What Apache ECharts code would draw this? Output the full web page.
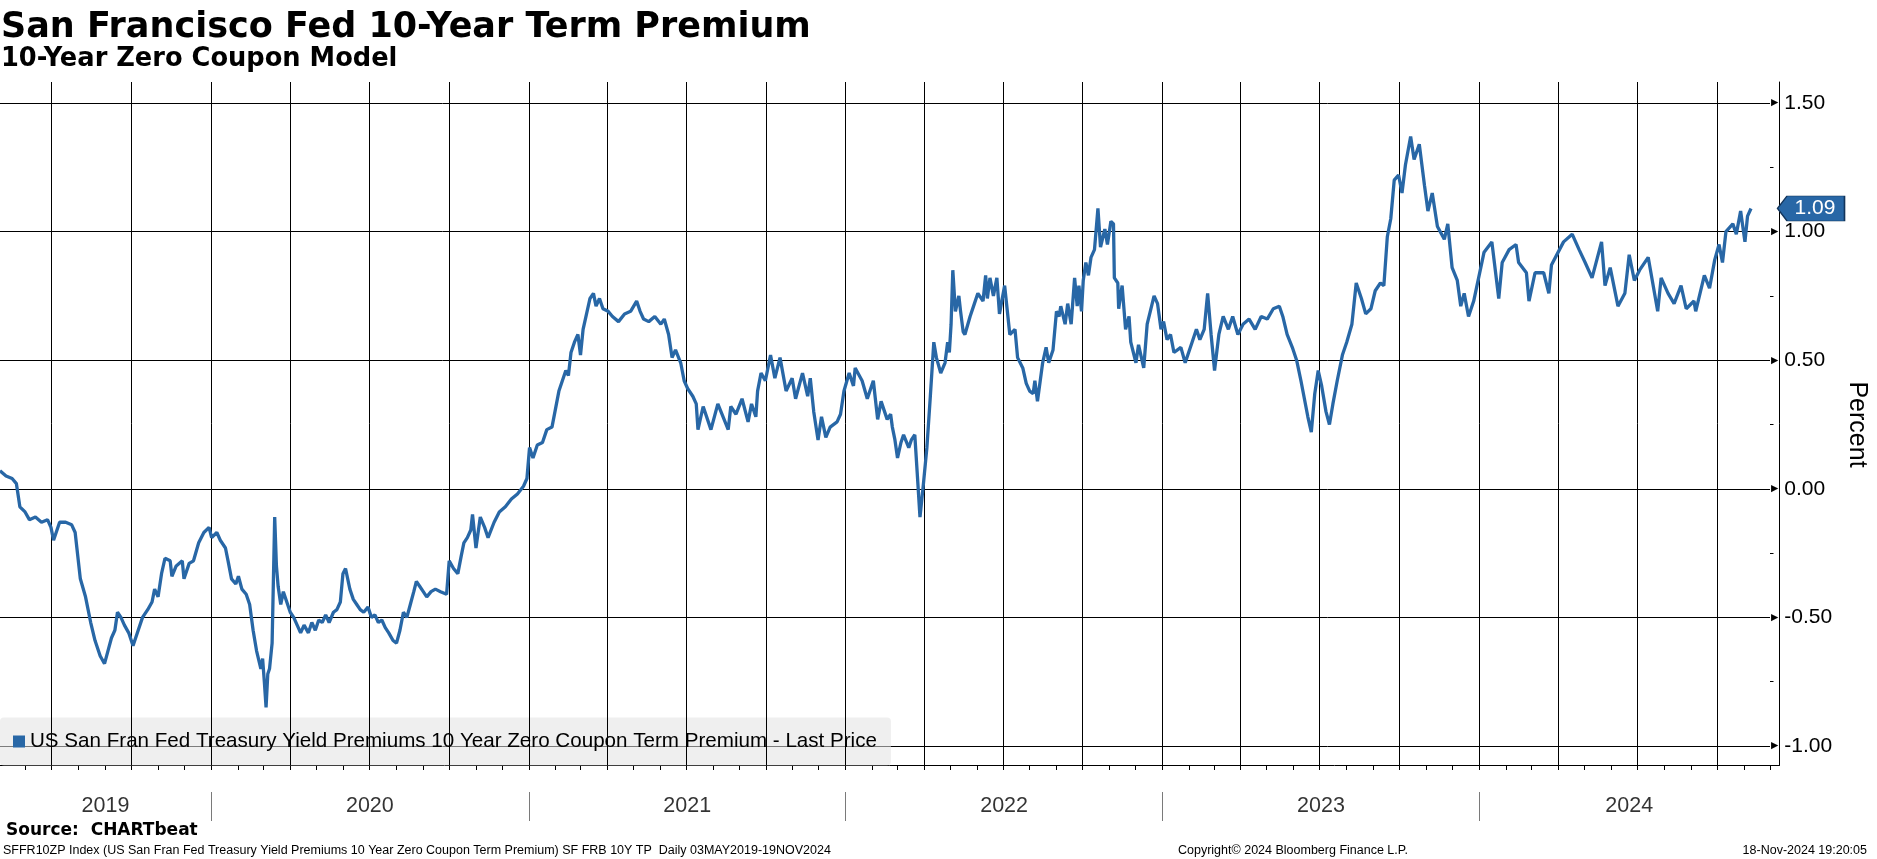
<!DOCTYPE html>
<html>
<head>
<meta charset="utf-8">
<script src="https://cdn.jsdelivr.net/npm/echarts@6/dist/echarts.min.js"></script>
<style>
html,body{margin:0;padding:0;background:#fff;}
#chart{width:1877px;height:859px;}
</style>
</head>
<body>
<div id="chart"></div>
<script>
// ---------- DATA ----------
const seriesName = 'US San Fran Fed Treasury Yield Premiums 10 Year Zero Coupon Term Premium - Last Price';
const yearLabels = ['2019','2020','2021','2022','2023','2024'];
const yTicks = [-1.0, -0.5, 0.0, 0.5, 1.0, 1.5];
const axisStart = '2019-05-03';
const axisEnd = '2024-12-11';

const data2019 = [
 ['2019-05-03',0.07],['2019-05-10',0.05],['2019-05-17',0.04],['2019-05-22',0.02],['2019-05-26',-0.07],
 ['2019-06-01',-0.09],['2019-06-06',-0.12],['2019-06-13',-0.11],['2019-06-20',-0.13],['2019-06-27',-0.12],
 ['2019-07-01',-0.15],['2019-07-04',-0.20],['2019-07-11',-0.13],['2019-07-18',-0.13],['2019-07-25',-0.14],
 ['2019-07-29',-0.17],['2019-08-04',-0.35],['2019-08-10',-0.42],['2019-08-16',-0.52],['2019-08-21',-0.59],
 ['2019-08-27',-0.65],['2019-09-01',-0.68],['2019-09-05',-0.63],['2019-09-09',-0.58],['2019-09-13',-0.55],
 ['2019-09-16',-0.48],['2019-09-20',-0.50],['2019-09-24',-0.53],['2019-09-29',-0.56],['2019-10-04',-0.61],
 ['2019-10-10',-0.55],['2019-10-15',-0.50],['2019-10-21',-0.47],['2019-10-26',-0.44],['2019-10-29',-0.39],
 ['2019-11-02',-0.42],['2019-11-06',-0.33],['2019-11-10',-0.27],['2019-11-16',-0.28],['2019-11-18',-0.34],
 ['2019-11-23',-0.30],['2019-11-30',-0.28],['2019-12-02',-0.35],['2019-12-08',-0.29],['2019-12-13',-0.28],
 ['2019-12-19',-0.21],['2019-12-25',-0.17],['2019-12-31',-0.15]
];
const data2020 = [
 ['2020-01-03',-0.19],['2020-01-09',-0.17],['2020-01-13',-0.20],['2020-01-19',-0.23],['2020-01-22',-0.28],
 ['2020-01-26',-0.35],['2020-01-31',-0.37],['2020-02-03',-0.34],['2020-02-07',-0.39],['2020-02-12',-0.41],
 ['2020-02-16',-0.45],['2020-02-20',-0.55],['2020-02-24',-0.63],['2020-02-29',-0.70],['2020-03-02',-0.66],
 ['2020-03-04',-0.75],['2020-03-06',-0.85],['2020-03-08',-0.72],['2020-03-10',-0.70],['2020-03-13',-0.60],
 ['2020-03-16',-0.11],['2020-03-18',-0.30],['2020-03-20',-0.38],['2020-03-23',-0.45],['2020-03-26',-0.40],
 ['2020-03-30',-0.44],['2020-04-03',-0.48],['2020-04-07',-0.50],['2020-04-11',-0.53],['2020-04-15',-0.56],
 ['2020-04-19',-0.53],['2020-04-24',-0.56],['2020-04-28',-0.52],['2020-05-02',-0.55],['2020-05-06',-0.51],
 ['2020-05-10',-0.52],['2020-05-14',-0.49],['2020-05-18',-0.52],['2020-05-23',-0.48],['2020-05-27',-0.47],
 ['2020-05-31',-0.44],['2020-06-03',-0.33],['2020-06-06',-0.31],['2020-06-11',-0.39],['2020-06-15',-0.43],
 ['2020-06-19',-0.45],['2020-06-23',-0.47],['2020-06-27',-0.48],['2020-07-02',-0.46],['2020-07-06',-0.50],
 ['2020-07-10',-0.49],['2020-07-14',-0.52],['2020-07-18',-0.51],['2020-07-22',-0.54],['2020-07-26',-0.56],
 ['2020-07-31',-0.59],['2020-08-04',-0.60],['2020-08-08',-0.55],['2020-08-12',-0.48],['2020-08-16',-0.50],
 ['2020-08-20',-0.45],['2020-08-24',-0.40],['2020-08-27',-0.36],['2020-08-31',-0.38],['2020-09-04',-0.40],
 ['2020-09-08',-0.42],['2020-09-13',-0.40],['2020-09-18',-0.39],['2020-09-24',-0.40],['2020-10-01',-0.41],
 ['2020-10-04',-0.28],['2020-10-09',-0.31],['2020-10-14',-0.33],['2020-10-18',-0.26],['2020-10-21',-0.21],
 ['2020-10-25',-0.19],['2020-10-29',-0.16],['2020-10-31',-0.10],['2020-11-04',-0.23],['2020-11-09',-0.11],
 ['2020-11-14',-0.15],['2020-11-18',-0.19],['2020-11-25',-0.13],['2020-12-01',-0.09],['2020-12-08',-0.07],
 ['2020-12-15',-0.04],['2020-12-22',-0.02],['2020-12-29',0.01]
];
const data2021 = [
 ['2021-01-02',0.04],['2021-01-05',0.16],['2021-01-09',0.12],['2021-01-14',0.17],['2021-01-20',0.18],
 ['2021-01-25',0.23],['2021-01-31',0.24],['2021-02-04',0.31],['2021-02-08',0.38],['2021-02-12',0.42],
 ['2021-02-16',0.46],['2021-02-19',0.44],['2021-02-22',0.53],['2021-02-26',0.57],['2021-03-02',0.60],
 ['2021-03-05',0.52],['2021-03-08',0.62],['2021-03-12',0.68],['2021-03-16',0.74],['2021-03-20',0.76],
 ['2021-03-23',0.71],['2021-03-27',0.74],['2021-03-31',0.70],['2021-04-06',0.69],['2021-04-11',0.67],
 ['2021-04-18',0.65],['2021-04-25',0.68],['2021-05-02',0.69],['2021-05-09',0.73],['2021-05-13',0.69],
 ['2021-05-17',0.66],['2021-05-23',0.65],['2021-05-30',0.67],['2021-06-06',0.64],['2021-06-10',0.66],
 ['2021-06-15',0.60],['2021-06-19',0.51],['2021-06-23',0.54],['2021-06-29',0.49],['2021-07-03',0.42],
 ['2021-07-07',0.39],['2021-07-13',0.36],['2021-07-17',0.33],['2021-07-19',0.23],['2021-07-25',0.32],
 ['2021-08-03',0.23],['2021-08-11',0.33],['2021-08-23',0.23],['2021-08-26',0.32],['2021-09-01',0.29],
 ['2021-09-08',0.35],['2021-09-15',0.26],['2021-09-19',0.33],['2021-09-24',0.28],['2021-09-26',0.38],
 ['2021-09-30',0.45],['2021-10-05',0.42],['2021-10-11',0.52],['2021-10-16',0.43],['2021-10-22',0.51],
 ['2021-10-29',0.38],['2021-11-05',0.43],['2021-11-09',0.35],['2021-11-17',0.45],['2021-11-23',0.36],
 ['2021-11-26',0.43],['2021-11-30',0.30],['2021-12-05',0.19],['2021-12-09',0.28],['2021-12-14',0.20],
 ['2021-12-19',0.24],['2021-12-27',0.26],['2021-12-31',0.29]
];
const data2022 = [
 ['2022-01-04',0.38],['2022-01-10',0.45],['2022-01-15',0.40],['2022-01-17',0.47],['2022-01-25',0.42],
 ['2022-01-31',0.35],['2022-02-07',0.42],['2022-02-12',0.27],['2022-02-16',0.34],['2022-02-23',0.27],
 ['2022-02-27',0.29],['2022-03-01',0.24],['2022-03-04',0.19],['2022-03-07',0.12],['2022-03-11',0.18],
 ['2022-03-14',0.21],['2022-03-20',0.16],['2022-03-23',0.19],['2022-03-27',0.21],['2022-03-30',0.05],
 ['2022-04-02',-0.11],['2022-04-06',0.02],['2022-04-10',0.16],['2022-04-14',0.36],['2022-04-18',0.57],
 ['2022-04-21',0.51],['2022-04-26',0.45],['2022-05-01',0.49],['2022-05-04',0.57],['2022-05-06',0.53],
 ['2022-05-08',0.64],['2022-05-10',0.85],['2022-05-13',0.69],['2022-05-17',0.75],['2022-05-19',0.69],
 ['2022-05-22',0.61],['2022-05-24',0.60],['2022-05-30',0.67],['2022-06-04',0.72],['2022-06-08',0.76],
 ['2022-06-14',0.73],['2022-06-17',0.83],['2022-06-19',0.74],['2022-06-22',0.82],['2022-06-26',0.75],
 ['2022-06-30',0.82],['2022-07-03',0.68],['2022-07-09',0.79],['2022-07-15',0.60],['2022-07-21',0.62],
 ['2022-07-24',0.51],['2022-07-30',0.47],['2022-08-03',0.41],['2022-08-07',0.38],['2022-08-11',0.37],
 ['2022-08-13',0.42],['2022-08-16',0.34],['2022-08-22',0.49],['2022-08-26',0.55],['2022-08-29',0.49],
 ['2022-09-03',0.54],['2022-09-07',0.69],['2022-09-10',0.67],['2022-09-12',0.71],['2022-09-17',0.64],
 ['2022-09-20',0.72],['2022-09-24',0.64],['2022-09-28',0.82],['2022-10-01',0.71],['2022-10-03',0.79],
 ['2022-10-06',0.69],['2022-10-08',0.81],['2022-10-11',0.88],['2022-10-14',0.83],['2022-10-17',0.90],
 ['2022-10-21',0.93],['2022-10-25',1.09],['2022-10-28',0.94],['2022-11-02',1.01],['2022-11-05',0.95],
 ['2022-11-09',1.04],['2022-11-12',1.03],['2022-11-13',0.82],['2022-11-17',0.80],['2022-11-18',0.70],
 ['2022-11-22',0.79],['2022-11-26',0.62],['2022-11-30',0.67],['2022-12-02',0.57],['2022-12-08',0.49],
 ['2022-12-11',0.56],['2022-12-17',0.47],['2022-12-21',0.64],['2022-12-29',0.75]
];
const data2023 = [
 ['2023-01-02',0.72],['2023-01-06',0.62],['2023-01-09',0.65],['2023-01-13',0.58],['2023-01-17',0.60],
 ['2023-01-21',0.53],['2023-01-29',0.55],['2023-02-03',0.49],['2023-02-11',0.57],['2023-02-16',0.62],
 ['2023-02-20',0.58],['2023-02-25',0.62],['2023-03-01',0.76],['2023-03-05',0.60],['2023-03-09',0.46],
 ['2023-03-14',0.60],['2023-03-19',0.67],['2023-03-25',0.62],['2023-03-30',0.67],['2023-04-05',0.60],
 ['2023-04-11',0.64],['2023-04-18',0.66],['2023-04-25',0.62],['2023-05-02',0.67],['2023-05-09',0.66],
 ['2023-05-16',0.70],['2023-05-23',0.71],['2023-05-27',0.67],['2023-06-01',0.60],['2023-06-07',0.55],
 ['2023-06-12',0.50],['2023-06-17',0.42],['2023-06-21',0.35],['2023-06-25',0.28],['2023-06-29',0.22],
 ['2023-07-03',0.37],['2023-07-07',0.46],['2023-07-11',0.40],['2023-07-16',0.30],['2023-07-20',0.25],
 ['2023-07-24',0.33],['2023-07-29',0.42],['2023-08-04',0.52],['2023-08-09',0.57],['2023-08-15',0.64],
 ['2023-08-20',0.80],['2023-08-26',0.74],['2023-08-31',0.68],['2023-09-06',0.70],['2023-09-11',0.77],
 ['2023-09-17',0.80],['2023-09-21',0.79],['2023-09-25',0.98],['2023-09-29',1.05],['2023-10-03',1.20],
 ['2023-10-08',1.22],['2023-10-12',1.15],['2023-10-16',1.26],['2023-10-22',1.37],['2023-10-26',1.28],
 ['2023-11-01',1.34],['2023-11-07',1.18],['2023-11-11',1.08],['2023-11-16',1.15],['2023-11-22',1.02],
 ['2023-11-30',0.97],['2023-12-04',1.03],['2023-12-09',0.86],['2023-12-15',0.81],['2023-12-19',0.71],
 ['2023-12-23',0.76],['2023-12-28',0.67]
];
const data2024 = [
 ['2024-01-03',0.73],['2024-01-15',0.92],['2024-01-24',0.96],['2024-02-01',0.74],['2024-02-05',0.88],
 ['2024-02-13',0.93],['2024-02-21',0.95],['2024-02-24',0.88],['2024-03-04',0.84],['2024-03-07',0.73],
 ['2024-03-14',0.84],['2024-03-24',0.84],['2024-03-30',0.76],['2024-04-02',0.87],['2024-04-16',0.96],
 ['2024-04-26',0.99],['2024-05-04',0.93],['2024-05-11',0.88],['2024-05-19',0.82],['2024-05-30',0.96],
 ['2024-06-03',0.79],['2024-06-09',0.86],['2024-06-18',0.71],['2024-06-26',0.76],['2024-07-01',0.91],
 ['2024-07-07',0.81],['2024-07-13',0.85],['2024-07-23',0.90],['2024-08-03',0.69],['2024-08-07',0.82],
 ['2024-08-15',0.76],['2024-08-22',0.72],['2024-08-30',0.79],['2024-09-05',0.70],['2024-09-14',0.73],
 ['2024-09-16',0.69],['2024-09-26',0.83],['2024-10-02',0.78],['2024-10-08',0.89],['2024-10-13',0.95],
 ['2024-10-17',0.88],['2024-10-21',1.00],['2024-10-29',1.03],['2024-11-02',0.99],['2024-11-07',1.08],
 ['2024-11-12',0.96],['2024-11-15',1.06],['2024-11-19',1.09]
];

// ---------- BUILD ----------
const lineData = [].concat(data2019, data2020, data2021, data2022, data2023, data2024);
const lastVal = lineData[lineData.length - 1][1];
const tMin = +new Date(axisStart + 'T00:00:00');
const tMax = +new Date(axisEnd + 'T00:00:00');

const monthTicks = [], quarterLines = [], yearBounds = [];
for (let y = 2019; y <= 2025; y++) {
  for (let m = 0; m < 12; m++) {
    const t = +new Date(y, m, 1);
    if (t <= tMin || t >= tMax) continue;
    monthTicks.push(t);
    if (m % 3 === 0) quarterLines.push(t);
    if (m === 0) yearBounds.push(t);
  }
}
const yearMid = yearLabels.map(ys => {
  const y = +ys;
  const a = Math.max(+new Date(y, 0, 1), tMin);
  const b = Math.min(+new Date(y + 1, 0, 1), tMax);
  return [(a + b) / 2, 0.5, ys];
});

const BLUE = '#2867a6';
const GL = 0, GR = 98;
const SANS = 'Liberation Sans, Arial, sans-serif';
const BOLD = 'DejaVu Sans, Verdana, sans-serif';

const chart = echarts.init(document.getElementById('chart'), null, {renderer: 'canvas'});
chart.setOption({
  animation: false,
  backgroundColor: '#fff',
  title: [
    {text: 'San Francisco Fed 10-Year Term Premium', left: 1, top: 10.5, padding: 0,
     textStyle: {fontFamily: BOLD, fontWeight: 'bold', fontSize: 35, color: '#000'}},
    {text: '10-Year Zero Coupon Model', left: 1, top: 46.5, padding: 0,
     textStyle: {fontFamily: BOLD, fontWeight: 'bold', fontSize: 25.7, color: '#000'}},
    {text: 'Source:  CHARTbeat', left: 6, top: 822, padding: 0,
     textStyle: {fontFamily: BOLD, fontWeight: 'bold', fontSize: 17, color: '#000'}},
    {text: 'SFFR10ZP Index (US San Fran Fed Treasury Yield Premiums 10 Year Zero Coupon Term Premium) SF FRB 10Y TP  Daily 03MAY2019-19NOV2024',
     left: 3, top: 844.5, padding: 0,
     textStyle: {fontFamily: SANS, fontWeight: 'normal', fontSize: 12.5, color: '#000'}},
    {text: 'Copyright\u00A9 2024 Bloomberg Finance L.P.', left: 1178, top: 844.5, padding: 0,
     textStyle: {fontFamily: SANS, fontWeight: 'normal', fontSize: 12.5, color: '#000'}},
    {text: '18-Nov-2024 19:20:05', right: 10, top: 844.5, padding: 0,
     textStyle: {fontFamily: SANS, fontWeight: 'normal', fontSize: 12.5, color: '#000'}}
  ],
  legend: {
    data: [seriesName], left: 0, top: 717.5, padding: [13, 14, 13, 13],
    itemWidth: 12, itemHeight: 12, itemGap: 10, icon: 'rect', selectedMode: false,
    backgroundColor: 'rgba(226,226,226,0.55)', borderRadius: 4,
    textStyle: {fontFamily: SANS, fontSize: 20.6, color: '#000', lineHeight: 22}
  },
  grid: [
    {left: GL, right: GR, top: 103, bottom: 859 - 746},
    {left: GL, right: GR, top: 82, bottom: 859 - 765.5},
    {left: GL, right: GR, top: 792, height: 29}
  ],
  xAxis: [
    {gridIndex: 0, type: 'time', min: tMin, max: tMax, show: false},
    {gridIndex: 1, type: 'time', min: tMin, max: tMax,
     axisLine: {show: true, lineStyle: {color: '#000', width: 1}},
     axisTick: {show: true, customValues: monthTicks, length: 4.5, lineStyle: {color: '#000', width: 1}},
     axisLabel: {show: false}, splitLine: {show: false}},
    {gridIndex: 2, type: 'time', min: tMin, max: tMax, show: false}
  ],
  yAxis: [
    {gridIndex: 0, type: 'value', position: 'right', min: -1, max: 1.5, interval: 0.5,
     name: 'Percent', nameLocation: 'middle', nameRotate: -90, nameGap: 74,
     nameTextStyle: {fontFamily: SANS, fontSize: 25, color: '#000'},
     axisLine: {show: false}, axisTick: {show: false},
     minorTick: {show: true, splitNumber: 2, length: 3.5, lineStyle: {color: '#000', width: 1}},
     splitLine: {show: true, lineStyle: {color: '#000', width: 1}},
     axisLabel: {show: true, margin: 1, customValues: yTicks,
       formatter: v => '{a|\u25B6}{b|' + v.toFixed(2) + '}',
       rich: {a: {fontFamily: 'DejaVu Sans', fontSize: 9.5, color: '#000'},
              b: {fontFamily: SANS, fontSize: 21, color: '#000', padding: [0, 0, 0, 6]}}}},
    {gridIndex: 1, type: 'value', position: 'right', min: 0, max: 1,
     axisLine: {show: true, lineStyle: {color: '#000', width: 1}},
     axisTick: {show: false}, axisLabel: {show: false}, splitLine: {show: false}},
    {gridIndex: 2, type: 'value', min: 0, max: 1, show: false}
  ],
  series: [
    {type: 'line', name: 'frame', xAxisIndex: 1, yAxisIndex: 1, data: [[tMin, 0.5]],
     symbol: 'none', lineStyle: {opacity: 0}, silent: true, z: 1,
     markLine: {silent: true, symbol: ['none', 'none'], label: {show: false},
       lineStyle: {color: '#000', width: 1, type: 'solid'},
       emphasis: {disabled: true},
       data: quarterLines.map(t => ({xAxis: t}))}},
    {type: 'scatter', name: 'years', xAxisIndex: 2, yAxisIndex: 2, data: yearMid,
     symbolSize: 1, itemStyle: {color: 'transparent'}, silent: true,
     label: {show: true, position: 'inside', formatter: p => p.data[2],
       fontFamily: SANS, fontSize: 21.5, color: '#000'},
     markLine: {silent: true, symbol: ['none', 'none'], label: {show: false},
       lineStyle: {color: '#7a7a7a', width: 1, type: 'solid'},
       data: yearBounds.map(t => ({xAxis: t}))}},
    {type: 'line', name: seriesName, xAxisIndex: 0, yAxisIndex: 0, data: lineData,
     showSymbol: false, symbol: 'none', color: BLUE, z: 5,
     lineStyle: {color: BLUE, width: 3.3},
     itemStyle: {color: BLUE},
     markPoint: {silent: true,
       data: [{coord: [tMax, lastVal], value: lastVal,
         symbol: 'path://M0,12.5L9.5,0L67,0L67,25L9.5,25Z', symbolSize: [67, 25], symbolOffset: [41, 0],
         itemStyle: {color: BLUE, borderColor: '#12345a', borderWidth: 1},
         label: {show: true, position: 'inside', offset: [4, 0], formatter: lastVal.toFixed(2),
           fontFamily: SANS, fontSize: 21, color: '#fff'}}]}}
  ]
});
</script>
</body>
</html>
